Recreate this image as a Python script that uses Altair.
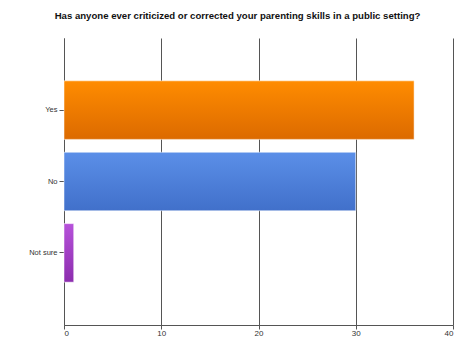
import altair as alt
import pandas as pd

categories = ["Yes", "No", "Not sure"]
values = [36, 30, 1]
top_colors = ["#FF8C00", "#5B8FE8", "#B652DA"]
bottom_colors = ["#DC6A00", "#4170CA", "#8C2DAE"]

df = pd.DataFrame({"answer": categories, "count": values})

y_enc = alt.Y(
    "answer:N",
    sort=categories,
    scale=alt.Scale(domain=categories, paddingInner=0.18, paddingOuter=0.6),
    axis=alt.Axis(
        title=None,
        labelFontSize=7.5,
        labelColor="#333333",
        labelFont="Arial",
        tickColor="#555555",
        tickSize=5,
        domainColor="#555555",
        labelPadding=2,
        grid=False,
    ),
)
x_enc = alt.X(
    "count:Q",
    scale=alt.Scale(domain=[0, 40], nice=False),
    axis=alt.Axis(
        title=None,
        values=[0, 10, 20, 30, 40],
        labelFontSize=8,
        labelColor="#333333",
        labelFont="Arial",
        tickColor="#555555",
        tickSize=4,
        domainColor="#555555",
        gridColor="#555555",
        gridOpacity=1,
        grid=True,
        labelPadding=0,
    ),
)

layers = []
for cat, c1, c2 in zip(categories, top_colors, bottom_colors):
    grad = alt.Gradient(
        gradient="linear",
        stops=[alt.GradientStop(color=c1, offset=0), alt.GradientStop(color=c2, offset=1)],
        x1=0, x2=0, y1=0, y2=1,
    )
    layers.append(
        alt.Chart(df)
        .transform_filter(alt.datum.answer == cat)
        .mark_bar(color=grad, stroke="#FFFFFF", strokeOpacity=0.5, strokeWidth=1, cornerRadius=0)
        .encode(x=x_enc, y=y_enc)
    )

chart = (
    alt.layer(*layers)
    .properties(
        width=389,
        height=287,
        title=alt.TitleParams(
            "Has anyone ever criticized or corrected your parenting skills in a public setting?",
            fontSize=9.6,
            font="Arial",
            fontWeight="bold",
            color="#111111",
            anchor="middle",
            offset=17,
            dx=-21,
        ),
        autosize=alt.AutoSizeParams(type="none"),
        padding={"left": 64, "top": 38, "right": 21, "bottom": 30},
        background="#FFFFFF",
    )
    .configure_view(stroke=None)
)

chart.save("out.html", embed_options={"renderer": "svg", "actions": False})
